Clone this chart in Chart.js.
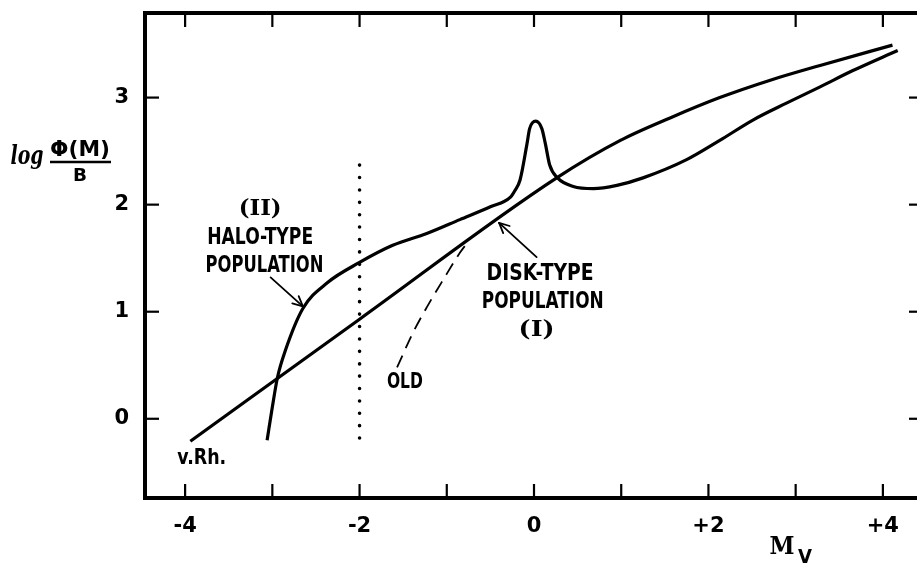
<!DOCTYPE html>
<html>
<head>
<meta charset="utf-8">
<script src="https://cdn.jsdelivr.net/npm/chart.js"></script>
<style>
  html, body { margin: 0; padding: 0; background: #fff; overflow: hidden; }
  #wrap { width: 940px; height: 565px; }
</style>
</head>
<body>
<div id="wrap"><canvas id="myChart" width="940" height="565"></canvas></div>
<script>
const xTicks = [-4, -3, -2, -1, 0, 1, 2, 3, 4];
const yTicks = [0, 1, 2, 3];

// disk-type population (I), with the v.Rh. straight part
const diskX = [-3.94, -2.0, 0.26, 0.99, 1.56, 2.13, 2.70, 3.28, 4.11];
const diskY = [-0.21, 0.93, 2.25, 2.60, 2.81, 3.00, 3.16, 3.30, 3.49];

// halo-type population (II)
const haloX = [-3.06, -3.0, -2.94, -2.85, -2.65, -2.37, -2.0, -1.62, -1.23, -0.85, -0.5, -0.27, -0.22, -0.16, -0.08, -0.05, 0.02, 0.09, 0.13, 0.18, 0.27, 0.45, 0.68, 0.95, 1.25, 1.75, 2.13, 2.51, 2.9, 3.28, 3.65, 4.17];
const haloY = [-0.20, 0.11, 0.39, 0.64, 1.03, 1.27, 1.46, 1.62, 1.73, 1.86, 1.98, 2.07, 2.13, 2.23, 2.57, 2.71, 2.78, 2.71, 2.57, 2.37, 2.25, 2.17, 2.15, 2.18, 2.25, 2.42, 2.60, 2.79, 2.95, 3.10, 3.25, 3.44];

// old branch (dashed)
const oldX = [-1.57, -1.39, -1.23, -1.04, -0.85, -0.75];
const oldY = [0.48, 0.80, 1.04, 1.30, 1.55, 1.66];

// dotted limit at Mv = -2
const limitX = [-2, -2];
const limitY = [-0.18, 2.46];

const notes = [
  { text: "(II)", x: -3.14, y: 1.98, size: 23, w: 43, serif: true },
  { text: "HALO-TYPE", x: -3.14, y: 1.71, size: 23, w: 106 },
  { text: "POPULATION", x: -3.09, y: 1.45, size: 23, w: 118 },
  { text: "DISK-TYPE", x: 0.07, y: 1.37, size: 23, w: 107 },
  { text: "POPULATION", x: 0.10, y: 1.11, size: 23, w: 122 },
  { text: "(I)", x: 0.03, y: 0.85, size: 23, w: 36, serif: true },
  { text: "OLD", x: -1.48, y: 0.36, size: 21, w: 36 },
  { text: "v.Rh.", x: -3.81, y: -0.35, size: 21, w: 49 },
];

const arrows = [
  { from: [-3.02, 1.32], to: [-2.65, 1.05] },
  { from: [0.03, 1.51], to: [-0.40, 1.83] },
];

function pts(xs, ys) {
  return xs.map((x, i) => ({ x, y: ys[i] }));
}

function squeezedText(ctx, text, cx, cy, size, w, font) {
  ctx.font = font;
  const m = ctx.measureText(text).width;
  ctx.save();
  ctx.translate(cx, cy + size * 0.36);
  ctx.scale(w / m, 1);
  ctx.textAlign = "center";
  ctx.textBaseline = "alphabetic";
  ctx.fillText(text, 0, 0);
  ctx.restore();
}

function line(ctx, x1, y1, x2, y2) {
  ctx.beginPath();
  ctx.moveTo(x1, y1);
  ctx.lineTo(x2, y2);
  ctx.stroke();
}

const framePlugin = {
  id: "frame",
  afterDraw(chart) {
    const { ctx, chartArea: a, scales } = chart;
    const x = scales.x;
    const y = scales.y;
    ctx.save();
    ctx.strokeStyle = "#000";
    ctx.fillStyle = "#000";
    ctx.lineCap = "butt";

    ctx.lineWidth = 2.2;
    x.ticks.forEach((t) => {
      const px = x.getPixelForValue(t.value);
      line(ctx, px, a.bottom, px, a.bottom - 14);
      line(ctx, px, a.top, px, a.top + 14);
    });
    y.ticks.forEach((t) => {
      const py = y.getPixelForValue(t.value);
      line(ctx, a.left, py, a.left + 14, py);
      line(ctx, a.right, py, a.right - 14, py);
    });

    ctx.lineWidth = 4;
    ctx.strokeRect(a.left, a.top, a.right - a.left, a.bottom - a.top);

    notes.forEach((n) => {
      const font = n.serif
        ? "bold " + n.size + "px 'DejaVu Serif'"
        : "bold " + n.size + "px 'DejaVu Sans'";
      squeezedText(ctx, n.text, x.getPixelForValue(n.x), y.getPixelForValue(n.y), n.size, n.w, font);
    });

    ctx.lineWidth = 1.8;
    ctx.lineCap = "round";
    arrows.forEach((ar) => {
      const x1 = x.getPixelForValue(ar.from[0]);
      const y1 = y.getPixelForValue(ar.from[1]);
      const x2 = x.getPixelForValue(ar.to[0]);
      const y2 = y.getPixelForValue(ar.to[1]);
      line(ctx, x1, y1, x2, y2);
      const ang = Math.atan2(y2 - y1, x2 - x1);
      [0.45, -0.45].forEach((d) => {
        line(ctx, x2, y2, x2 - 11 * Math.cos(ang + d), y2 - 11 * Math.sin(ang + d));
      });
    });

    // axis titles
    squeezedText(ctx, "M", 782, 545, 25, 25, "bold 25px 'DejaVu Serif'");
    squeezedText(ctx, "V", 805, 556, 19, 14, "bold 19px 'DejaVu Sans'");

    squeezedText(ctx, "log", 27, 155, 26, 33, "italic bold 26px 'DejaVu Serif'");
    squeezedText(ctx, "\u03A6(M)", 80, 148, 21, 60, "bold 21px 'DejaVu Sans'");
    ctx.lineWidth = 2.4;
    ctx.lineCap = "butt";
    line(ctx, 50, 162, 111, 162);
    squeezedText(ctx, "B", 80, 175, 17, 14, "bold 17px 'DejaVu Sans'");
    ctx.restore();
  },
};

const lineStyle = {
  borderColor: "#000",
  pointRadius: 0,
  fill: false,
  cubicInterpolationMode: "monotone",
};

const ctx = document.getElementById("myChart").getContext("2d");
const myChart = new Chart(ctx, {
  type: "scatter",
  data: {
    datasets: [
      { ...lineStyle, label: "disk", data: pts(diskX, diskY), showLine: true, borderWidth: 3.2 },
      { ...lineStyle, label: "halo", data: pts(haloX, haloY), showLine: true, borderWidth: 3.2 },
      { ...lineStyle, label: "old", data: pts(oldX, oldY), showLine: true, borderWidth: 1.8, borderDash: [13, 8] },
      {
        ...lineStyle,
        label: "limit",
        data: pts(limitX, limitY),
        showLine: true,
        borderWidth: 3.6,
        borderDash: [0, 12.4],
        borderCapStyle: "round",
      },
    ],
  },
  options: {
    responsive: false,
    animation: false,
    devicePixelRatio: 1,
    layout: { padding: { left: 0, right: 17, top: 13, bottom: 0 } },
    plugins: { legend: { display: false }, tooltip: { enabled: false } },
    scales: {
      x: {
        type: "linear",
        min: -4.46,
        max: 4.46,
        grid: { display: false, drawTicks: false },
        border: { display: false },
        afterBuildTicks: (scale) => {
          scale.ticks = xTicks.map((v) => ({ value: v }));
        },
        afterFit: (scale) => {
          scale.height = 67;
          scale.paddingLeft = 0;
          scale.paddingRight = 0;
        },
        ticks: {
          autoSkip: false,
          maxRotation: 0,
          padding: 16,
          color: "#000",
          font: { family: "DejaVu Sans", size: 21, weight: "bold" },
          callback: (v) => (v % 2 !== 0 ? "" : v > 0 ? "+" + v : String(v)),
        },
      },
      y: {
        type: "linear",
        min: -0.74,
        max: 3.79,
        grid: { display: false, drawTicks: false },
        border: { display: false },
        afterBuildTicks: (scale) => {
          scale.ticks = yTicks.map((v) => ({ value: v }));
        },
        afterFit: (scale) => {
          scale.width = 145;
          scale.paddingTop = 0;
          scale.paddingBottom = 0;
        },
        ticks: {
          padding: 16,
          color: "#000",
          font: { family: "DejaVu Sans", size: 21, weight: "bold" },
          callback: (v) => String(v),
        },
      },
    },
  },
  plugins: [framePlugin],
});
</script>
</body>
</html>
